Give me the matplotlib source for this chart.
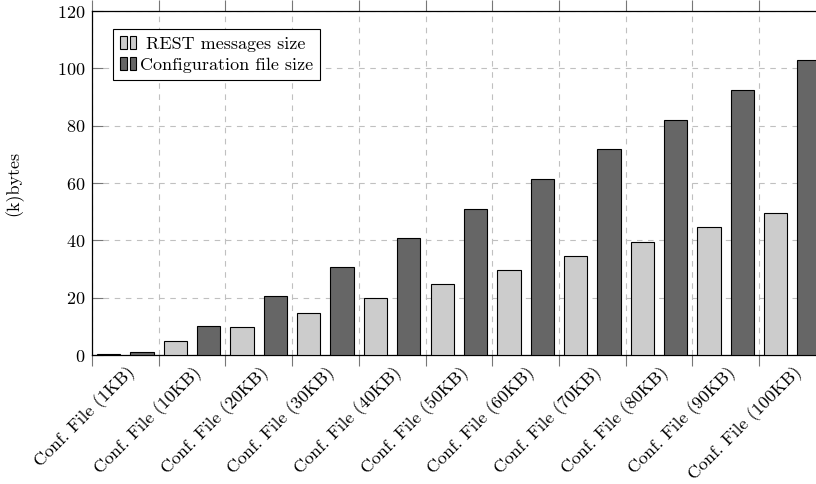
import matplotlib
matplotlib.use("Agg")
import matplotlib.pyplot as plt
from matplotlib.patches import Rectangle
from matplotlib.legend_handler import HandlerTuple
import numpy as np

categories = ["Conf. File (1KB)", "Conf. File (10KB)", "Conf. File (20KB)",
              "Conf. File (30KB)", "Conf. File (40KB)", "Conf. File (50KB)",
              "Conf. File (60KB)", "Conf. File (70KB)", "Conf. File (80KB)",
              "Conf. File (90KB)", "Conf. File (100KB)"]
rest_size = [0.5, 5.0, 9.9, 14.8, 19.8, 24.7, 29.7, 34.6, 39.5, 44.5, 49.4]
conf_size = [1.1, 10.2, 20.5, 30.6, 40.8, 51.0, 61.3, 71.7, 82.1, 92.5, 102.9]
yticks = [0, 20, 40, 60, 80, 100, 120]

plt.rcParams['font.family'] = ['cmr10', 'DejaVu Serif']
plt.rcParams['axes.formatter.use_mathtext'] = True
plt.rcParams['font.size'] = 13

light = '#cccccc'
dark = '#666666'

fig = plt.figure(figsize=(8.16, 4.84), dpi=100)
ax = fig.add_axes([92 / 816, 1 - 355 / 484, 1 - 92 / 816, 344 / 484])

x = np.arange(len(categories))
w = 0.35
ax.bar(x + 0.25, rest_size, w, color=light, edgecolor='black', linewidth=0.8, zorder=3)
ax.bar(x + 0.75, conf_size, w, color=dark, edgecolor='black', linewidth=0.8, zorder=3)

ax.set_xlim(0, 724 / 66.7)
ax.set_ylim(0, 120)
ax.set_yticks(yticks)

# tick marks and grid on group edges, names under group centres
ax.set_xticks(x)
ax.set_xticklabels([])
ax.set_xticks(x + 0.5, minor=True)
ax.set_xticklabels(categories, minor=True, rotation=45, ha='right', va='top',
                   rotation_mode='anchor')

ax.grid(True, which='major', color='#c0c0c0', linestyle=(0, (5, 5)), linewidth=0.8, zorder=0)
ax.spines['right'].set_visible(False)
for s in ['left', 'bottom', 'top']:
    ax.spines[s].set_linewidth(0.9)
    ax.spines[s].set_color('black')

ax.tick_params(axis='x', which='major', direction='out', length=8, width=0.8,
               color='#777777', top=True)
ax.tick_params(axis='x', which='minor', length=0, pad=6)
ax.tick_params(axis='y', direction='in', length=8, width=0.8, color='#777777', pad=5)

ax.set_ylabel('(k)bytes')
ax.yaxis.set_label_coords((23 - 92) / 724, 0.5)

# two small boxes per entry, like pgfplots ybar legends
h1 = (Rectangle((0, 0), 1, 1, facecolor=light, edgecolor='black', linewidth=0.8),
      Rectangle((0, 0), 1, 1, facecolor=light, edgecolor='black', linewidth=0.8))
h2 = (Rectangle((0, 0), 1, 1, facecolor=dark, edgecolor='black', linewidth=0.8),
      Rectangle((0, 0), 1, 1, facecolor=dark, edgecolor='black', linewidth=0.8))
leg = ax.legend([h1, h2], [' REST messages size', 'Configuration file size'],
                handler_map={tuple: HandlerTuple(ndivide=None, pad=0.2)},
                loc='upper left', bbox_to_anchor=((113 - 92) / 724, (355 - 29) / 344),
                borderaxespad=0, fancybox=False, framealpha=1, edgecolor='black',
                handlelength=0.9, handleheight=0.7, handletextpad=0.2,
                borderpad=0.4, labelspacing=0.3)
leg.get_frame().set_linewidth(0.8)

plt.savefig("out.png")
